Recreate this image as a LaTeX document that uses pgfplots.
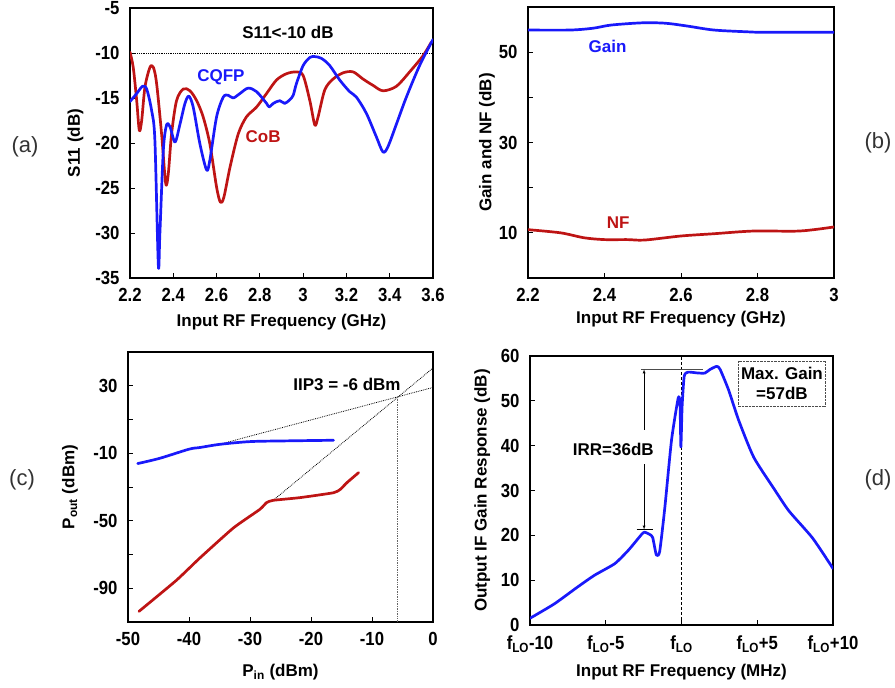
\documentclass[border=0pt]{standalone}
\usepackage{fontspec}
\setmainfont{Liberation Sans}
\newfontfamily\tickfont{Liberation Sans}[FakeStretch=0.88]
\usepackage{pgfplots}
\pgfplotsset{compat=1.18}
\definecolor{myblue}{RGB}{25,25,250}
\definecolor{myred}{RGB}{190,20,20}
\newcommand{\lblfont}{\bfseries\fontsize{17}{20}\selectfont}
\pgfplotsset{
  panel/.style={
    scale only axis,
    anchor=south west,
    axis line style={line width=2.2pt},
    tick style={black, line width=0.8pt},
    major tick length=5pt,
    minor tick length=5pt,
    tick pos=left,
    tick align=inside,
    ticklabel style={font=\tickfont\bfseries\fontsize{19}{22}\selectfont},
    xticklabel style={yshift=-7pt},
    yticklabel style={xshift=-7pt},
    label style={font=\lblfont},
    /pgf/number format/assume math mode=true,
    /pgf/number format/fixed,
  },
  curve/.style={line width=2.7pt, line join=round, line cap=round},
}
\begin{document}
\begin{tikzpicture}
\path[use as bounding box] (0pt,0pt) rectangle (895pt,688pt);
% ---------------- (a)
\begin{axis}[panel, at={(130pt,410pt)}, width=303pt, height=270pt,
  xmin=2.2, xmax=3.6, ymin=-35, ymax=-5,
  xtick={2.2,2.4,2.6,2.8,3,3.2,3.4,3.6},
  ytick={-35,-30,-25,-20,-15,-10,-5},
  xlabel={Input RF Frequency (GHz)}, ylabel={S11 (dB)},
  xlabel style={at={(axis description cs:0.5,-0.163)}, anchor=center},
  ylabel style={at={(axis description cs:-0.18,0.5)}, anchor=center, rotate=0},
]
\addplot[densely dotted, black, line width=0.8pt] coordinates {(2.2,-10) (3.6,-10)};
\addplot[curve, myred, smooth, tension=0.5] coordinates {
(2.2,-9.9) (2.215,-11.6) (2.231,-15.3) (2.243,-18.6) (2.254,-17.5) (2.269,-13.8)
(2.292,-11.6) (2.308,-11.6) (2.323,-13.4) (2.346,-19) (2.365,-24.5) (2.377,-23.4)
(2.392,-19) (2.415,-15.3) (2.446,-14.0) (2.477,-14.2) (2.508,-15.3) (2.538,-17.1)
(2.569,-20.1) (2.6,-24.9) (2.618,-26.6) (2.634,-26) (2.662,-22.7) (2.7,-19)
(2.738,-17.1) (2.785,-16) (2.831,-14.5) (2.877,-13) (2.923,-12.3) (2.969,-12.1)
(3.0,-12.5) (3.031,-15.3) (3.054,-18) (3.069,-17.1) (3.1,-14.1) (3.138,-12.9)
(3.185,-12.2) (3.231,-12.1) (3.277,-12.9) (3.323,-13.6) (3.369,-14.2) (3.431,-13.7)
(3.492,-12.1) (3.554,-10.3) (3.592,-8.8)};
\addplot[curve, myblue, smooth, tension=0.5] coordinates {
(2.2,-15.4) (2.231,-14.5) (2.258,-13.7) (2.277,-14.0) (2.3,-16.4) (2.315,-19.7)
(2.331,-33.6) (2.338,-30.1) (2.354,-20.8) (2.369,-18.0) (2.385,-18.2) (2.408,-19.9)
(2.431,-17.9) (2.454,-15.6) (2.472,-14.8) (2.492,-16) (2.523,-20.1) (2.554,-23)
(2.569,-21.9) (2.6,-17.1) (2.631,-14.9) (2.654,-14.7) (2.677,-15) (2.708,-14.5)
(2.746,-13.9) (2.785,-14.3) (2.831,-15.6) (2.843,-16) (2.862,-15.6) (2.892,-15.3)
(2.915,-15.6) (2.938,-15.2) (2.954,-14.7) (2.969,-13.4) (3.0,-11.4) (3.031,-10.5)
(3.054,-10.4) (3.085,-10.6) (3.123,-11.4) (3.169,-13) (3.215,-14.3) (3.246,-14.9)
(3.292,-16.7) (3.338,-19.3) (3.369,-21.0) (3.392,-20.4) (3.431,-17.9) (3.477,-14.9)
(3.538,-11.4) (3.6,-8.5)};
\node[font=\lblfont] at (axis cs:2.93,-7.7) {S11<-10 dB};
\node[font=\lblfont, text=myblue] at (axis cs:2.62,-12.7) {CQFP};
\node[font=\lblfont, text=myred] at (axis cs:2.815,-19.3) {CoB};
\end{axis}
% ---------------- (b)
\begin{axis}[panel, at={(528pt,410pt)}, width=306pt, height=271pt,
  xmin=2.2, xmax=3, ymin=0, ymax=60,
  xtick={2.2,2.4,2.6,2.8,3},
  ytick={10,30,50}, minor ytick={20,40},
  xlabel={Input RF Frequency (GHz)}, ylabel={Gain and NF (dB)},
  xlabel style={at={(axis description cs:0.5,-0.151)}, anchor=center},
  ylabel style={at={(axis description cs:-0.134,0.5)}, anchor=center, rotate=0},
]
\addplot[curve, myblue, smooth] coordinates {
(2.2,54.9) (2.31,54.9) (2.37,55.3) (2.417,56) (2.5,56.5) (2.56,56.4) (2.615,55.8)
(2.686,54.9) (2.775,54.5) (2.82,54.4) (3,54.4)};
\addplot[curve, myred, smooth] coordinates {
(2.2,10.7) (2.285,10) (2.347,8.9) (2.4,8.5) (2.46,8.5) (2.505,8.4) (2.6,9.3)
(2.686,9.8) (2.79,10.4) (2.91,10.4) (3,11.3)};
\node[font=\lblfont, text=myblue] at (axis cs:2.408,51.3) {Gain};
\node[font=\lblfont, text=myred] at (axis cs:2.436,12.2) {NF};
\end{axis}
% ---------------- (c)
\begin{axis}[panel, at={(128pt,66pt)}, width=305pt, height=270pt,
  xmin=-50, xmax=0, ymin=-110, ymax=50,
  xtick={-50,-40,-30,-20,-10,0},
  ytick={-90,-50,-10,30}, minor ytick={-70,-30,10},
  xlabel={P\textsubscript{in} (dBm)}, ylabel={P\textsubscript{out} (dBm)},
  xlabel style={at={(axis description cs:0.5,-0.185)}, anchor=center},
  ylabel style={at={(axis description cs:-0.19,0.5)}, anchor=center, rotate=0},
]
\addplot[densely dotted, black, line width=0.8pt] coordinates {(-35,-4.7) (0,29)};
\addplot[densely dotted, black, line width=0.8pt] coordinates {(-26.2,-37.9) (0,40.5)};
\addplot[densely dotted, black!60, line width=0.7pt] coordinates {(-5.8,-110) (-5.8,23.5)};
\addplot[curve, myblue, smooth] coordinates {
(-48.4,-16.1) (-44.8,-13) (-40,-7.6) (-38.2,-6.6) (-34.9,-4.7) (-30,-3.1)
(-24.5,-2.7) (-16.3,-2.3)};
\addplot[curve, myred, smooth, tension=0.3] coordinates {
(-48.2,-103.7) (-42.1,-85.4) (-38.2,-72) (-32.7,-54.2) (-28.4,-43.3) (-27.3,-39.3)
(-26.2,-37.9) (-21.8,-36.3) (-16.3,-33.4) (-15.2,-31.4) (-14.1,-27.4) (-12.2,-21.5)};
\node[font=\lblfont] at (axis cs:-14.1,31) {IIP3 = -6 dBm};
\end{axis}
% ---------------- (d)
\begin{axis}[panel, at={(530pt,63pt)}, width=303pt, height=269pt,
  xmin=-10, xmax=10, ymin=0, ymax=60,
  xtick={-10,-5,0,5,10},
  xticklabels={f\textsubscript{LO}-10, f\textsubscript{LO}-5, f\textsubscript{LO}, f\textsubscript{LO}+5, f\textsubscript{LO}+10},
  ytick={0,10,20,30,40,50,60},
  xlabel={Input RF Frequency (MHz)}, ylabel={Output IF Gain Response (dB)},
  xlabel style={at={(axis description cs:0.5,-0.175)}, anchor=center},
  ylabel style={at={(axis description cs:-0.158,0.5)}, anchor=center, rotate=0},
]
\addplot[densely dashed, black, line width=0.9pt] coordinates {(0,0) (0,60)};
\addplot[black!70, thin] coordinates {(-2.68,57) (1.4,57)};
\addplot[black, thin] coordinates {(-2.97,21.3) (-1.86,21.3)};
\addplot[black, thin, -latex] coordinates {(-2.47,43.5) (-2.47,57)};
\addplot[black, thin, -latex] coordinates {(-2.47,35.9) (-2.47,21.3)};
\addplot[curve, myblue, smooth, tension=0.35] coordinates {
(-10,1.5) (-8.4,4.7) (-6.85,8.5) (-5.74,11.1) (-4.4,13.7) (-3.5,16.7) (-2.66,20.1)
(-2.44,20.7) (-2.1,20.2) (-1.9,19.5) (-1.66,15.6) (-1.44,16.4) (-1.1,26.2)
(-0.66,41.2) (-0.22,50.6) (-0.1,49.5) (-0.04,39.7) (0.04,48.7) (0.18,55.5)
(0.44,56.4) (1.1,56.2) (1.55,56.2) (1.88,57.0) (2.33,57.7) (2.55,57.0) (3.1,52.5)
(3.77,45.7) (4.77,37.4) (6.2,29.9) (7.1,25.4) (8.65,19.4) (10,12.6)};
\node[font=\lblfont] at (axis cs:-4.5,39.1) {IRR=36dB};
\draw[densely dotted, black!70] (axis cs:3.77,58.9) rectangle (axis cs:9.5,48.7);
\node[font=\lblfont, align=center] at (axis cs:6.63,53.8) {Max. Gain\\=57dB};
\end{axis}
% panel letters
\node[font=\fontsize{22}{26}\selectfont, text=black!80] at (25pt,541pt) {(a)};
\node[font=\fontsize{22}{26}\selectfont, text=black!80] at (878pt,545pt) {(b)};
\node[font=\fontsize{22}{26}\selectfont, text=black!80] at (22pt,208pt) {(c)};
\node[font=\fontsize{22}{26}\selectfont, text=black!80] at (878pt,208pt) {(d)};
\end{tikzpicture}
\end{document}
